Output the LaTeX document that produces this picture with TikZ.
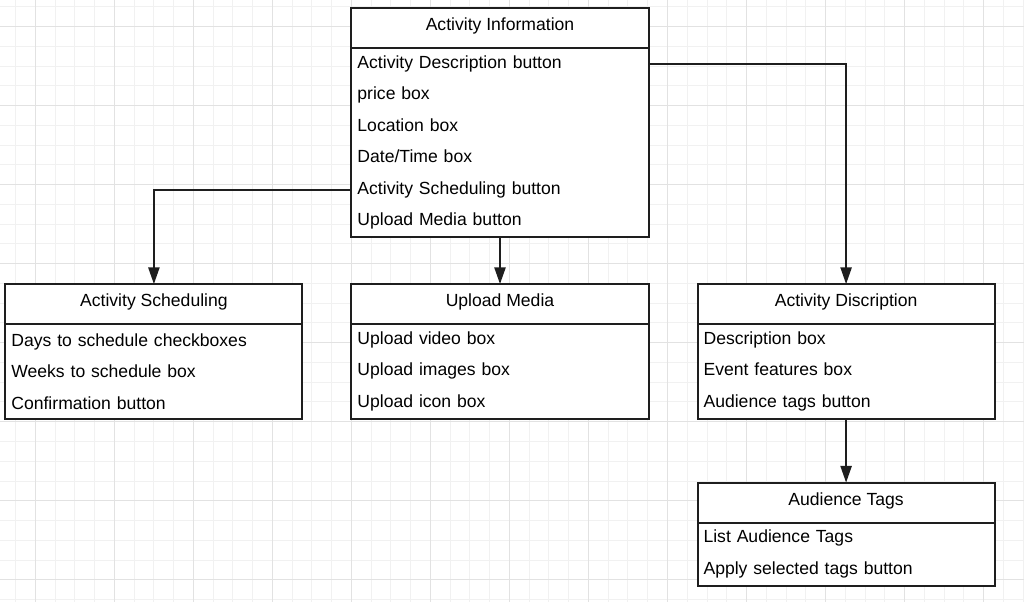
\documentclass[tikz,border=0pt]{standalone}
\usepackage{fontspec}
\setmainfont{Liberation Sans}
\usepackage{tikz}
\usetikzlibrary{arrows.meta,positioning,calc}
\definecolor{gridminor}{HTML}{F1F1F1}
\definecolor{gridmajor}{HTML}{E2E2E2}
\definecolor{inkdark}{HTML}{1E1E1E}
\begin{document}
\begin{tikzpicture}[
  x=0.025cm,y=-0.025cm,
  head/.style={rectangle,draw=inkdark,fill=white,line width=1.4pt,outer sep=0pt,minimum width=7.425cm,minimum height=1cm,inner sep=0pt,text height=9pt,text depth=5.4pt,align=center,font=\fontsize{12.5}{15}\selectfont},
  body/.style={rectangle,draw=inkdark,fill=white,line width=1.4pt,outer sep=0pt,text width=7.125cm,inner xsep=0.15cm,inner ysep=0pt,align=left,font=\fontsize{12.5}{22.4}\selectfont},
  arr/.style={-{Triangle[length=4.2mm,width=2.8mm]},line width=1.4pt,draw=inkdark},
  node distance=1.175cm
]
\useasboundingbox (0,0) rectangle (1024,601);
\begin{scope}
\clip (0,0) rectangle (1024,601);
\draw[gridminor,line width=0.6pt,shift={(0.3875cm,-0.17cm)}] (-2cm,2cm) grid[step=0.49375cm] (28cm,-17cm);
\draw[gridmajor,line width=0.6pt,shift={(0.88125cm,-0.66375cm)}] (-2cm,2cm) grid[step=1.975cm] (28cm,-17cm);
\end{scope}
\node[head] (info) at (500,28) {Activity Information};
\node[body,minimum height=4.725cm,below=0pt of info] (infobody) {Activity Description button\\price box\\Location box\\Date/Time box\\Activity Scheduling button\\Upload Media button};
\node[head,below=1.175cm of infobody] (mediahead) {Upload Media};
\node[body,minimum height=2.3625cm,below=0pt of mediahead] (mediabody) {Upload video box\\Upload images box\\Upload icon box};
\node[head,left=1.225cm of mediahead] (schedhead) {Activity Scheduling};
\node[body,minimum height=2.3625cm,below=0pt of schedhead] (schedbody) {Days to schedule checkboxes\\Weeks to schedule box\\Confirmation button};
\node[head,right=1.225cm of mediahead] (deschead) {Activity Discription};
\node[body,minimum height=2.3625cm,below=0pt of deschead] (descbody) {Description box\\Event features box\\Audience tags button};
\node[head,below=1.6cm of descbody] (tagshead) {Audience Tags};
\node[body,minimum height=1.575cm,below=0pt of tagshead] (tagsbody) {List Audience Tags\\Apply selected tags button};
\coordinate (descbtn) at ($(infobody.north east)+(0,-0.39375cm)$);
\coordinate (schedbtn) at ($(infobody.north west)+(0,-3.54375cm)$);
\draw[arr] (descbtn) -| (deschead);
\draw[arr] (schedbtn) -| (schedhead);
\draw[arr] (infobody) -- (mediahead);
\draw[arr] (descbody) -- (tagshead);
\end{tikzpicture}
\end{document}
